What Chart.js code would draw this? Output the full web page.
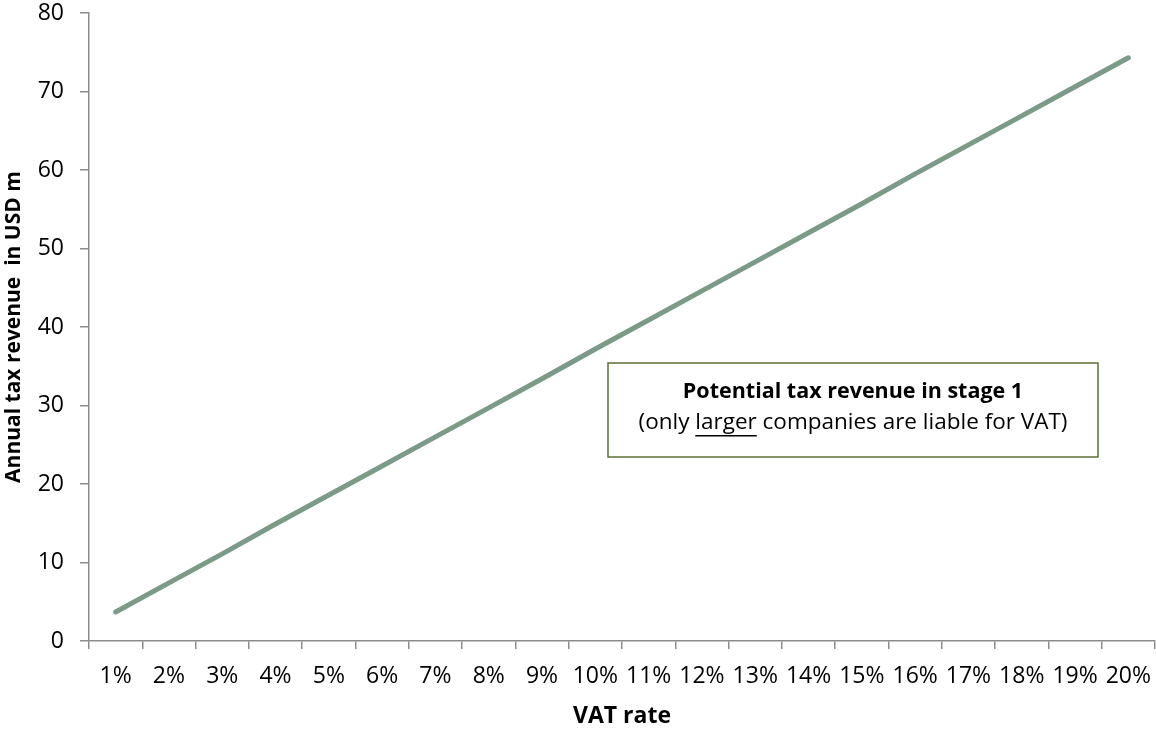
<!DOCTYPE html>
<html>
<head>
<meta charset="utf-8">
<script src="https://cdn.jsdelivr.net/npm/chart.js@4/dist/chart.umd.min.js"></script>
<style>
html,body{margin:0;padding:0;background:#fff;}
#wrap{width:1156px;height:731px;position:relative;}
</style>
</head>
<body>
<div id="wrap"><canvas id="c" width="1156" height="731"></canvas></div>
<script>
const categories = ['1%','2%','3%','4%','5%','6%','7%','8%','9%','10%','11%','12%','13%','14%','15%','16%','17%','18%','19%','20%'];
const revenue = [3.7,7.4,11.1,14.9,18.6,22.3,26.0,29.7,33.4,37.2,40.9,44.6,48.3,52.0,55.7,59.5,63.2,66.9,70.6,74.3];
const yTicks = [0,10,20,30,40,50,60,70,80];
const yTitle = 'Annual tax revenue  in USD m';
const xTitle = 'VAT rate';
const noteTitle = 'Potential tax revenue in stage 1';
const noteParts = ['(only ', 'larger', ' companies are liable for VAT)'];

const FONT = "'Open Sans', 'Liberation Sans', sans-serif";
const axisGray = '#8c8c8c';

const notePlugin = {
  id: 'note',
  afterDraw(chart) {
    const ctx = chart.ctx;
    const x0 = 608, y0 = 363, w = 490, h = 94;
    ctx.save();
    ctx.fillStyle = '#fff';
    ctx.fillRect(x0, y0, w, h);
    ctx.strokeStyle = '#5b7036';
    ctx.lineWidth = 1.5;
    ctx.strokeRect(x0, y0, w, h);
    const cx = x0 + w / 2;
    ctx.fillStyle = '#000';
    ctx.textBaseline = 'middle';
    ctx.textAlign = 'center';
    ctx.font = "bold 21.5px " + FONT;
    ctx.fillText(noteTitle, cx, 392);
    ctx.font = "22.5px " + FONT;
    const widths = noteParts.map(p => ctx.measureText(p).width);
    const total = widths.reduce((a, b) => a + b, 0);
    let x = cx - total / 2;
    ctx.textAlign = 'left';
    noteParts.forEach((p, i) => {
      ctx.fillText(p, x, 423);
      if (i === 1) {
        ctx.fillRect(x, 435, widths[i], 1.5);
      }
      x += widths[i];
    });
    ctx.restore();
  }
};

new Chart(document.getElementById('c'), {
  type: 'line',
  data: {
    labels: categories,
    datasets: [{
      data: revenue,
      borderColor: '#7b9b88',
      borderWidth: 5,
      borderCapStyle: 'round',
      pointRadius: 0,
      tension: 0,
      fill: false
    }]
  },
  options: {
    responsive: false,
    animation: false,
    devicePixelRatio: 1,
    layout: { padding: { top: 13, right: 1, left: 0, bottom: 0 } },
    plugins: { legend: { display: false }, tooltip: { enabled: false } },
    scales: {
      x: {
        type: 'category',
        offset: true,
        grid: { display: true, offset: true, drawOnChartArea: false, drawTicks: true, tickLength: 8, color: axisGray, lineWidth: 1.5 },
        border: { display: true, color: axisGray, width: 1.5 },
        ticks: { color: '#000', font: { family: FONT, size: 23 }, padding: 14, maxRotation: 0, autoSkip: false },
        title: { display: true, text: xTitle, color: '#000', font: { family: FONT, size: 23, weight: 'bold' }, padding: { top: 0, bottom: 1 } },
        afterFit(s) { s.height = 90; s.paddingLeft = 0; s.paddingRight = 0; }
      },
      y: {
        min: 0, max: 80,
        afterBuildTicks(s) { s.ticks = yTicks.map(v => ({ value: v })); },
        grid: { display: true, drawOnChartArea: false, drawTicks: true, tickLength: 9, color: axisGray, lineWidth: 1.5 },
        border: { display: true, color: axisGray, width: 1.5 },
        ticks: { color: '#000', font: { family: FONT, size: 23 }, padding: 16 },
        title: { display: true, text: yTitle, color: '#000', font: { family: FONT, size: 21, weight: 'bold' }, padding: { top: 1, bottom: 0 } },
        afterFit(s) { s.width = 89; s.paddingTop = 0; s.paddingBottom = 0; }
      }
    }
  },
  plugins: [notePlugin]
});
</script>
</body>
</html>
